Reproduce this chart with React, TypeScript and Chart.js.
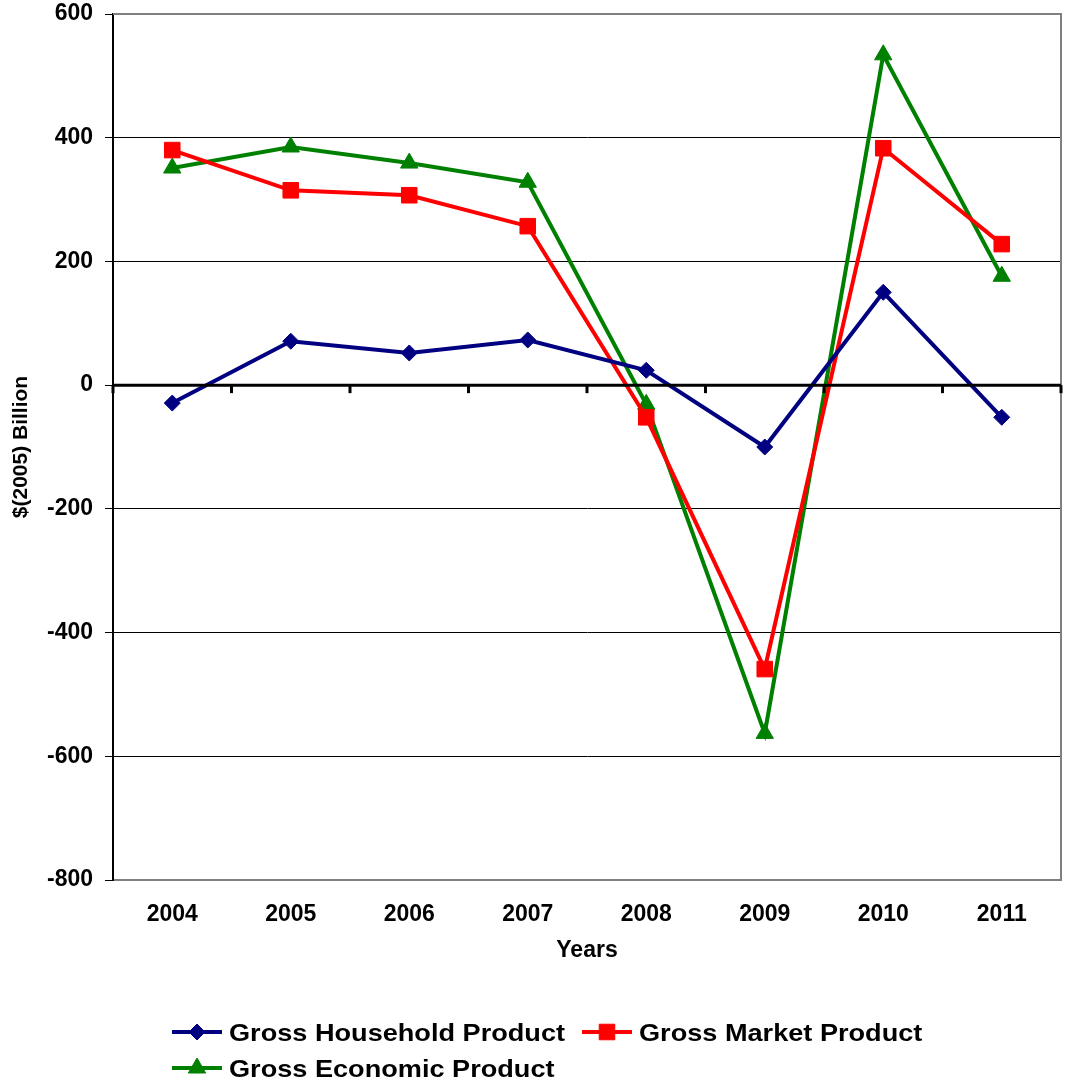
import React, { useEffect, useRef } from "react";
import { Chart, registerables } from "chart.js";

Chart.register(...registerables);

const years = ["2004", "2005", "2006", "2007", "2008", "2009", "2010", "2011"];
const householdProduct = [-29, 71, 52, 73, 24, -100, 150, -52];
const marketProduct = [380, 315, 307, 257, -52, -459, 383, 228];
const economicProduct = [351, 385, 359, 328, -31, -563, 534, 176];
const yTicks = [600, 400, 200, 0, -200, -400, -600, -800];

const FONT = "'Liberation Sans', Arial, sans-serif";

function drawMarker(ctx: CanvasRenderingContext2D, style: string, r: number, x: number, y: number) {
  ctx.beginPath();
  if (style === "rectRot") {
    ctx.moveTo(x - r, y);
    ctx.lineTo(x, y - r);
    ctx.lineTo(x + r, y);
    ctx.lineTo(x, y + r);
  } else if (style === "rect") {
    const s = r * Math.SQRT1_2;
    ctx.rect(x - s, y - s, 2 * s, 2 * s);
  } else {
    const a = (2 * Math.PI) / 3;
    ctx.moveTo(x, y - r);
    ctx.lineTo(x + Math.sin(a) * r, y - Math.cos(a) * r);
    ctx.lineTo(x + Math.sin(2 * a) * r, y - Math.cos(2 * a) * r);
  }
  ctx.closePath();
  ctx.fill();
  ctx.stroke();
}

// Zero line, frame, axis titles and legend drawn on top of the chart
const decorations = {
  id: "decorations",
  afterDatasetsDraw(chart: any) {
    const { ctx, chartArea, scales } = chart;
    const x = scales.x;
    const y = scales.y;
    const y0 = y.getPixelForValue(0);
    ctx.save();
    // gray frame on top / right
    ctx.strokeStyle = "#808080";
    ctx.lineWidth = 2;
    ctx.beginPath();
    ctx.moveTo(chartArea.left, chartArea.top);
    ctx.lineTo(chartArea.right, chartArea.top);
    ctx.lineTo(chartArea.right, chartArea.bottom);
    ctx.stroke();
    // zero line with category ticks
    ctx.strokeStyle = "#000";
    ctx.lineWidth = 3;
    ctx.beginPath();
    ctx.moveTo(chartArea.left, y0);
    ctx.lineTo(chartArea.right, y0);
    ctx.stroke();
    const n = years.length;
    const step = x.getPixelForValue(1) - x.getPixelForValue(0);
    for (let i = 0; i <= n; i++) {
      const px = x.getPixelForValue(0) - step / 2 + i * step;
      ctx.beginPath();
      ctx.moveTo(px, y0);
      ctx.lineTo(px, y0 + 8);
      ctx.stroke();
    }
    ctx.restore();
  },
  afterDraw(chart: any) {
    const { ctx, chartArea } = chart;
    ctx.save();
    ctx.fillStyle = "#000";
    ctx.font = `bold 23px ${FONT}`;
    ctx.textAlign = "center";
    ctx.textBaseline = "middle";
    ctx.fillText("Years", (chartArea.left + chartArea.right) / 2, 951);
    ctx.save();
    ctx.translate(21, (chartArea.top + chartArea.bottom) / 2);
    ctx.rotate(-Math.PI / 2);
    ctx.font = `bold 21px ${FONT}`;
    ctx.fillText("$(2005) Billion", 0, 0);
    ctx.restore();

    // legend
    const items = [
      { ds: 0, x: 172, y: 1032 },
      { ds: 1, x: 582, y: 1032 },
      { ds: 2, x: 172, y: 1068 },
    ];
    ctx.font = `bold 24px ${FONT}`;
    ctx.textAlign = "left";
    for (const it of items) {
      const ds = chart.data.datasets[it.ds];
      ctx.strokeStyle = ds.borderColor;
      ctx.lineWidth = 4;
      ctx.beginPath();
      ctx.moveTo(it.x, it.y);
      ctx.lineTo(it.x + 50, it.y);
      ctx.stroke();
      ctx.fillStyle = ds.pointBackgroundColor;
      ctx.strokeStyle = ds.pointBorderColor;
      ctx.lineWidth = 1;
      drawMarker(ctx, ds.pointStyle, ds.pointRadius, it.x + 25, it.y);
      ctx.fillStyle = "#000";
      ctx.save();
      ctx.translate(it.x + 57, it.y + 2);
      ctx.scale(1.13, 1);
      ctx.fillText(ds.label, 0, 0);
      ctx.restore();
    }
    ctx.restore();
  },
};

export default function App() {
  const ref = useRef<HTMLCanvasElement | null>(null);
  useEffect(() => {
    document.body.style.margin = "0";
    const canvas = ref.current!;
    const chart = new Chart(canvas, {
      type: "line",
      data: {
        labels: years,
        datasets: [
          {
            label: "Gross Household Product",
            data: householdProduct,
            borderColor: "#000080",
            backgroundColor: "#000080",
            pointBackgroundColor: "#000080",
            pointBorderColor: "#000080",
            pointStyle: "rectRot",
            pointRadius: 8,
            borderWidth: 4,
            pointBorderWidth: 1,
          },
          {
            label: "Gross Market Product",
            data: marketProduct,
            borderColor: "#FF0000",
            backgroundColor: "#FF0000",
            pointBackgroundColor: "#FF0000",
            pointBorderColor: "#FF0000",
            pointStyle: "rect",
            pointRadius: 11,
            borderWidth: 4,
            pointBorderWidth: 1,
          },
          {
            label: "Gross Economic Product",
            data: economicProduct,
            borderColor: "#008000",
            backgroundColor: "#008000",
            pointBackgroundColor: "#008000",
            pointBorderColor: "#008000",
            pointStyle: "triangle",
            pointRadius: 10,
            borderWidth: 4,
            pointBorderWidth: 1,
          },
        ],
      },
      options: {
        responsive: false,
        animation: false,
        layout: { autoPadding: false, padding: { top: 14, right: 4, left: 0, bottom: 0 } },
        plugins: { legend: { display: false }, tooltip: { enabled: false } },
        scales: {
          x: {
            offset: true,
            grid: { display: false, offset: true },
            border: { color: "#808080", width: 2 },
            ticks: {
              color: "#000",
              font: { family: FONT, size: 23, weight: "bold" },
              padding: 13,
              maxRotation: 0,
            },
            afterFit(scale: any) {
              scale.height = 1084 - 880;
              scale.paddingLeft = 0;
              scale.paddingRight = 0;
            },
          },
          y: {
            min: -800,
            max: 600,
            afterBuildTicks(scale: any) {
              scale.ticks = yTicks.map((v) => ({ value: v }));
            },
            grid: {
              color: (c: any) =>
                c.tick && c.tick.value === 0 ? "rgba(0,0,0,0)" : c.tick && c.tick.value === 600 ? "#808080" : "#000",
              tickColor: "#000",
              tickLength: 8,
              lineWidth: 1,
            },
            border: { color: "#000", width: 2 },
            ticks: {
              color: "#000",
              font: { family: FONT, size: 23, weight: "bold" },
              padding: 12,
            },
            afterFit(scale: any) {
              scale.width = 113;
              scale.paddingTop = 0;
              scale.paddingBottom = 0;
            },
          },
        },
      },
      plugins: [decorations],
    } as any);
    return () => chart.destroy();
  }, []);
  return (
    <div style={{ position: "absolute", left: 0, top: 0, width: 1065, height: 1084 }}>
      <canvas ref={ref} width={1065} height={1084} style={{ display: "block" }} />
    </div>
  );
}
